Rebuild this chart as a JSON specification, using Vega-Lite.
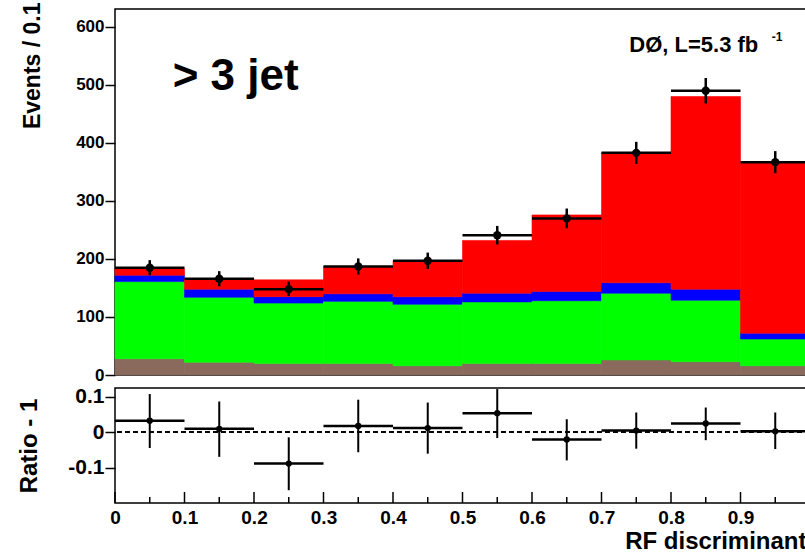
{
  "$schema": "https://vega.github.io/schema/vega-lite/v6.json",
  "background": "white",
  "padding": {"left": 16, "top": 1, "right": 0, "bottom": 0},
  "spacing": 0,
  "config": {
    "view": {"stroke": "black", "strokeWidth": 1.5},
    "axis": {"labelFont": "Liberation Sans", "labelFontWeight": "bold", "titleFont": "Liberation Sans", "titleFontWeight": "bold", "labelColor": "black", "titleColor": "black", "tickColor": "black", "domain": false, "grid": false, "labelOverlap": false, "labelFlush": false},
    "text": {"font": "Liberation Sans", "fontWeight": "bold", "color": "black"}
  },
  "datasets": {
    "mc": [
      {"lo": 0.0, "hi": 0.1, "comp": "Multijet", "n": 28, "o": 0},
      {"lo": 0.0, "hi": 0.1, "comp": "W+jets", "n": 133, "o": 1},
      {"lo": 0.0, "hi": 0.1, "comp": "Z+jets", "n": 11, "o": 2},
      {"lo": 0.0, "hi": 0.1, "comp": "ttbar", "n": 11, "o": 3},
      {"lo": 0.1, "hi": 0.2, "comp": "Multijet", "n": 22, "o": 0},
      {"lo": 0.1, "hi": 0.2, "comp": "W+jets", "n": 112, "o": 1},
      {"lo": 0.1, "hi": 0.2, "comp": "Z+jets", "n": 14, "o": 2},
      {"lo": 0.1, "hi": 0.2, "comp": "ttbar", "n": 18, "o": 3},
      {"lo": 0.2, "hi": 0.3, "comp": "Multijet", "n": 20, "o": 0},
      {"lo": 0.2, "hi": 0.3, "comp": "W+jets", "n": 104, "o": 1},
      {"lo": 0.2, "hi": 0.3, "comp": "Z+jets", "n": 11, "o": 2},
      {"lo": 0.2, "hi": 0.3, "comp": "ttbar", "n": 29, "o": 3},
      {"lo": 0.3, "hi": 0.4, "comp": "Multijet", "n": 20, "o": 0},
      {"lo": 0.3, "hi": 0.4, "comp": "W+jets", "n": 107, "o": 1},
      {"lo": 0.3, "hi": 0.4, "comp": "Z+jets", "n": 13, "o": 2},
      {"lo": 0.3, "hi": 0.4, "comp": "ttbar", "n": 47, "o": 3},
      {"lo": 0.4, "hi": 0.5, "comp": "Multijet", "n": 16, "o": 0},
      {"lo": 0.4, "hi": 0.5, "comp": "W+jets", "n": 106, "o": 1},
      {"lo": 0.4, "hi": 0.5, "comp": "Z+jets", "n": 13, "o": 2},
      {"lo": 0.4, "hi": 0.5, "comp": "ttbar", "n": 62, "o": 3},
      {"lo": 0.5, "hi": 0.6, "comp": "Multijet", "n": 20, "o": 0},
      {"lo": 0.5, "hi": 0.6, "comp": "W+jets", "n": 106, "o": 1},
      {"lo": 0.5, "hi": 0.6, "comp": "Z+jets", "n": 15, "o": 2},
      {"lo": 0.5, "hi": 0.6, "comp": "ttbar", "n": 91, "o": 3},
      {"lo": 0.6, "hi": 0.7, "comp": "Multijet", "n": 20, "o": 0},
      {"lo": 0.6, "hi": 0.7, "comp": "W+jets", "n": 108, "o": 1},
      {"lo": 0.6, "hi": 0.7, "comp": "Z+jets", "n": 16, "o": 2},
      {"lo": 0.6, "hi": 0.7, "comp": "ttbar", "n": 132, "o": 3},
      {"lo": 0.7, "hi": 0.8, "comp": "Multijet", "n": 26, "o": 0},
      {"lo": 0.7, "hi": 0.8, "comp": "W+jets", "n": 115, "o": 1},
      {"lo": 0.7, "hi": 0.8, "comp": "Z+jets", "n": 18, "o": 2},
      {"lo": 0.7, "hi": 0.8, "comp": "ttbar", "n": 224, "o": 3},
      {"lo": 0.8, "hi": 0.9, "comp": "Multijet", "n": 23, "o": 0},
      {"lo": 0.8, "hi": 0.9, "comp": "W+jets", "n": 106, "o": 1},
      {"lo": 0.8, "hi": 0.9, "comp": "Z+jets", "n": 19, "o": 2},
      {"lo": 0.8, "hi": 0.9, "comp": "ttbar", "n": 332, "o": 3},
      {"lo": 0.9, "hi": 1.0, "comp": "Multijet", "n": 16, "o": 0},
      {"lo": 0.9, "hi": 1.0, "comp": "W+jets", "n": 46, "o": 1},
      {"lo": 0.9, "hi": 1.0, "comp": "Z+jets", "n": 10, "o": 2},
      {"lo": 0.9, "hi": 1.0, "comp": "ttbar", "n": 295, "o": 3}
    ],
    "obs": [
      {"lo": 0.0, "hi": 0.1, "c": 0.05, "n": 185, "elo": 172, "ehi": 198},
      {"lo": 0.1, "hi": 0.2, "c": 0.15, "n": 166, "elo": 153, "ehi": 179},
      {"lo": 0.2, "hi": 0.3, "c": 0.25, "n": 148, "elo": 136, "ehi": 161},
      {"lo": 0.3, "hi": 0.4, "c": 0.35, "n": 187, "elo": 173, "ehi": 201},
      {"lo": 0.4, "hi": 0.5, "c": 0.45, "n": 197, "elo": 183, "ehi": 211},
      {"lo": 0.5, "hi": 0.6, "c": 0.55, "n": 241, "elo": 225, "ehi": 257},
      {"lo": 0.6, "hi": 0.7, "c": 0.65, "n": 270, "elo": 253, "ehi": 287},
      {"lo": 0.7, "hi": 0.8, "c": 0.75, "n": 383, "elo": 364, "ehi": 402},
      {"lo": 0.8, "hi": 0.9, "c": 0.85, "n": 490, "elo": 468, "ehi": 512},
      {"lo": 0.9, "hi": 1.0, "c": 0.95, "n": 367, "elo": 348, "ehi": 386}
    ],
    "ratio": [
      {"lo": 0.0, "hi": 0.1, "c": 0.05, "r": 0.032, "elo": -0.045, "ehi": 0.107},
      {"lo": 0.1, "hi": 0.2, "c": 0.15, "r": 0.009, "elo": -0.070, "ehi": 0.086},
      {"lo": 0.2, "hi": 0.3, "c": 0.25, "r": -0.089, "elo": -0.164, "ehi": -0.015},
      {"lo": 0.3, "hi": 0.4, "c": 0.35, "r": 0.017, "elo": -0.057, "ehi": 0.091},
      {"lo": 0.4, "hi": 0.5, "c": 0.45, "r": 0.011, "elo": -0.061, "ehi": 0.083},
      {"lo": 0.5, "hi": 0.6, "c": 0.55, "r": 0.053, "elo": -0.017, "ehi": 0.121},
      {"lo": 0.6, "hi": 0.7, "c": 0.65, "r": -0.021, "elo": -0.080, "ehi": 0.036},
      {"lo": 0.7, "hi": 0.8, "c": 0.75, "r": 0.004, "elo": -0.047, "ehi": 0.055},
      {"lo": 0.8, "hi": 0.9, "c": 0.85, "r": 0.024, "elo": -0.023, "ehi": 0.069},
      {"lo": 0.9, "hi": 1.0, "c": 0.95, "r": 0.002, "elo": -0.048, "ehi": 0.055}
    ],
    "xticks": [
      {"v": 0.0, "kind": "major"}, {"v": 0.05, "kind": "minor"},
      {"v": 0.1, "kind": "major"}, {"v": 0.15, "kind": "minor"},
      {"v": 0.2, "kind": "major"}, {"v": 0.25, "kind": "minor"},
      {"v": 0.3, "kind": "major"}, {"v": 0.35, "kind": "minor"},
      {"v": 0.4, "kind": "major"}, {"v": 0.45, "kind": "minor"},
      {"v": 0.5, "kind": "major"}, {"v": 0.55, "kind": "minor"},
      {"v": 0.6, "kind": "major"}, {"v": 0.65, "kind": "minor"},
      {"v": 0.7, "kind": "major"}, {"v": 0.75, "kind": "minor"},
      {"v": 0.8, "kind": "major"}, {"v": 0.85, "kind": "minor"},
      {"v": 0.9, "kind": "major"}, {"v": 0.95, "kind": "minor"},
      {"v": 1.0, "kind": "major"}
    ]
  },
  "vconcat": [
    {
      "width": 695,
      "height": 366,
      "layer": [
        {
          "data": {"name": "mc"},
          "transform": [{"stack": "n", "groupby": ["lo"], "sort": [{"field": "o"}], "as": ["y0", "y1"]}],
          "mark": {"type": "bar", "strokeWidth": 0.6},
          "encoding": {
            "x": {"field": "lo", "type": "quantitative", "scale": {"domain": [0, 1], "nice": false, "zero": false}, "axis": null},
            "x2": {"field": "hi"},
            "y": {"field": "y0", "type": "quantitative", "scale": {"domain": [0, 631], "nice": false},
              "axis": {
                "title": "Events / 0.1",
                "values": [0, 50, 100, 150, 200, 250, 300, 350, 400, 450, 500, 550, 600],
                "labelExpr": "datum.value % 100 == 0 ? datum.label : ''",
                "labelFontSize": 17,
                "labelPadding": 1,
                "tickSize": {"condition": {"test": "datum.value % 100 != 0", "value": 5}, "value": 10},
                "tickWidth": 1.5,
                "titleFontSize": 23,
                "titleX": -83,
                "titleY": -7,
                "titleAngle": 270,
                "titleAlign": "right",
                "titleBaseline": "middle"
              }
            },
            "y2": {"field": "y1"},
            "color": {"field": "comp", "type": "nominal", "scale": {"domain": ["Multijet", "W+jets", "Z+jets", "ttbar"], "range": ["#8a6a5c", "#00ff00", "#0000ff", "#ff0000"]}, "legend": null},
            "stroke": {"field": "comp", "type": "nominal", "scale": {"domain": ["Multijet", "W+jets", "Z+jets", "ttbar"], "range": ["#8a6a5c", "#00ff00", "#0000ff", "#ff0000"]}, "legend": null}
          }
        },
        {
          "data": {"name": "obs"},
          "mark": {"type": "rule", "color": "black", "strokeWidth": 2.5},
          "encoding": {
            "x": {"field": "lo", "type": "quantitative"},
            "x2": {"field": "hi"},
            "y": {"field": "n", "type": "quantitative"}
          }
        },
        {
          "data": {"name": "obs"},
          "mark": {"type": "rule", "color": "black", "strokeWidth": 2.5},
          "encoding": {
            "x": {"field": "c", "type": "quantitative"},
            "y": {"field": "elo", "type": "quantitative"},
            "y2": {"field": "ehi"}
          }
        },
        {
          "data": {"name": "obs"},
          "mark": {"type": "point", "filled": true, "color": "black", "opacity": 1, "size": 70},
          "encoding": {
            "x": {"field": "c", "type": "quantitative"},
            "y": {"field": "n", "type": "quantitative"}
          }
        },
        {
          "data": {"values": [{"t": "> 3 jet"}]},
          "mark": {"type": "text", "fontSize": 44, "align": "left", "baseline": "alphabetic"},
          "encoding": {
            "x": {"datum": 0.083, "type": "quantitative"},
            "y": {"datum": 491, "type": "quantitative"},
            "text": {"field": "t"}
          }
        },
        {
          "data": {"values": [{"t": "DØ, L=5.3 fb"}]},
          "mark": {"type": "text", "fontSize": 22, "align": "left", "baseline": "alphabetic"},
          "encoding": {
            "x": {"datum": 0.74, "type": "quantitative"},
            "y": {"datum": 557, "type": "quantitative"},
            "text": {"field": "t"}
          }
        },
        {
          "data": {"values": [{"t": "-1"}]},
          "mark": {"type": "text", "fontSize": 12, "align": "left", "baseline": "alphabetic"},
          "encoding": {
            "x": {"datum": 0.945, "type": "quantitative"},
            "y": {"datum": 576, "type": "quantitative"},
            "text": {"field": "t"}
          }
        }
      ]
    },
    {
      "width": 695,
      "height": 115,
      "layer": [
        {
          "data": {"name": "ratio"},
          "mark": {"type": "rule", "color": "black", "strokeWidth": 2.5},
          "encoding": {
            "x": {"field": "lo", "type": "quantitative", "scale": {"domain": [0, 1], "nice": false, "zero": false},
              "axis": {
                "title": "RF discriminant",
                "values": [0, 0.1, 0.2, 0.3, 0.4, 0.5, 0.6, 0.7, 0.8, 0.9],
                "labelExpr": "format(datum.value, '~g')",
                "labelFontSize": 19,
                "labelPadding": 5,
                "ticks": false,
                "titleFontSize": 24,
                "titleX": 691,
                "titleAlign": "right",
                "titleAnchor": "end",
                "titleBaseline": "alphabetic",
                "titleY": 45
              }
            },
            "x2": {"field": "hi"},
            "y": {"field": "r", "type": "quantitative", "scale": {"domain": [-0.2, 0.124], "nice": false, "zero": false},
              "axis": {
                "title": "Ratio - 1",
                "values": [-0.1, 0, 0.1],
                "labelExpr": "datum.value == 0 ? '0' : (datum.value < 0 ? '-0.1' : '0.1')",
                "labelFontSize": 21,
                "labelPadding": 1,
                "tickSize": 10,
                "tickWidth": 1.5,
                "titleFontSize": 24,
                "titleX": -86,
                "titleAngle": 270,
                "titleBaseline": "middle"
              }
            }
          }
        },
        {
          "data": {"name": "ratio"},
          "mark": {"type": "rule", "color": "black", "strokeWidth": 1.5, "strokeDash": [5, 3]},
          "encoding": {
            "y": {"datum": 0, "type": "quantitative"}
          }
        },
        {
          "data": {"name": "ratio"},
          "mark": {"type": "rule", "color": "black", "strokeWidth": 2},
          "encoding": {
            "x": {"field": "c", "type": "quantitative"},
            "y": {"field": "elo", "type": "quantitative"},
            "y2": {"field": "ehi"}
          }
        },
        {
          "data": {"name": "ratio"},
          "mark": {"type": "point", "filled": true, "color": "black", "opacity": 1, "size": 40},
          "encoding": {
            "x": {"field": "c", "type": "quantitative"},
            "y": {"field": "r", "type": "quantitative"}
          }
        },
        {
          "data": {"name": "xticks"},
          "transform": [{"filter": "datum.kind == 'major'"}],
          "mark": {"type": "rule", "strokeWidth": 1.5, "color": "black"},
          "encoding": {
            "x": {"field": "v", "type": "quantitative"},
            "y": {"datum": -0.2, "type": "quantitative"},
            "y2": {"datum": -0.169}
          }
        },
        {
          "data": {"name": "xticks"},
          "transform": [{"filter": "datum.kind == 'minor'"}],
          "mark": {"type": "rule", "strokeWidth": 1.5, "color": "black"},
          "encoding": {
            "x": {"field": "v", "type": "quantitative"},
            "y": {"datum": -0.2, "type": "quantitative"},
            "y2": {"datum": -0.183}
          }
        }
      ]
    }
  ]
}
